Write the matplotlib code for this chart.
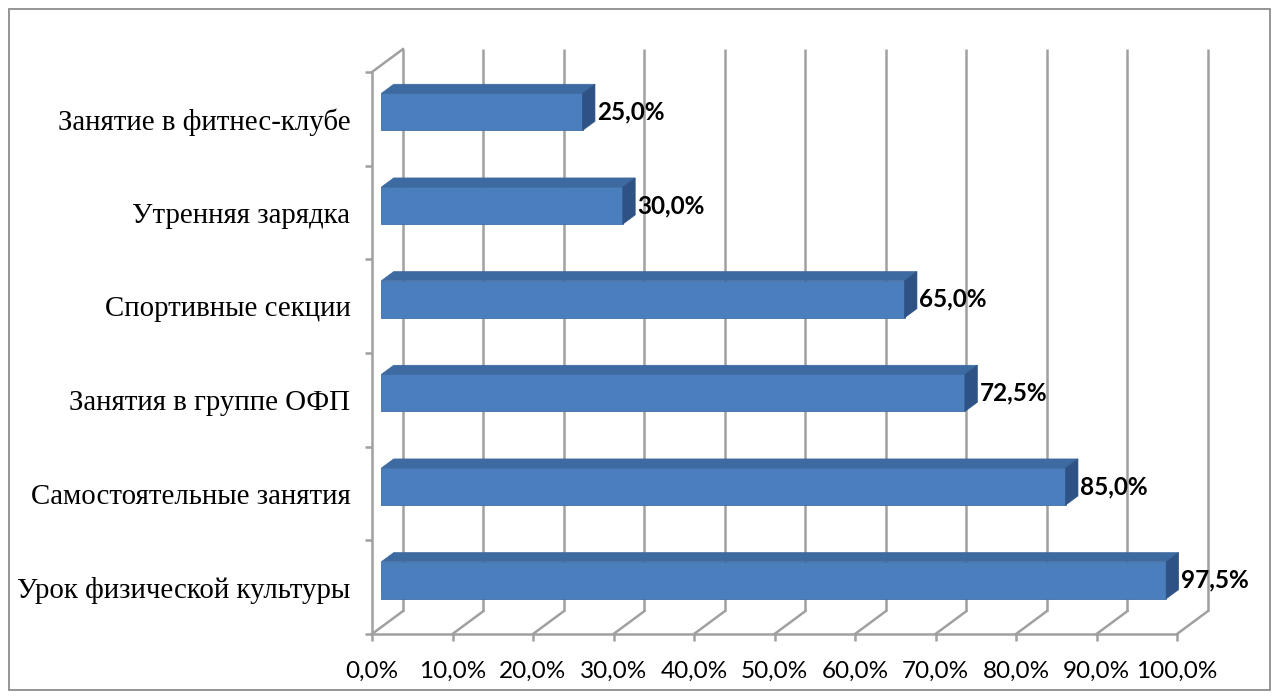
"""
Horizontal 3D-style bar chart: forms of physical activity (share of respondents)
"""
import matplotlib
matplotlib.use('Agg')
import matplotlib.pyplot as plt
from matplotlib.patches import Polygon, Rectangle

categories = ['Урок физической культуры', 'Самостоятельные занятия',
              'Занятия в группе ОФП', 'Спортивные секции',
              'Утренняя зарядка', 'Занятие в фитнес-клубе']
values = [97.5, 85.0, 72.5, 65.0, 30.0, 25.0]
xticks = list(range(0, 101, 10))
xtick_labels = [f"{v:.1f}%".replace('.', ',') for v in xticks]

# depth offsets (data units) for the fake 3D look
DX = 3.85
DY = 0.245
BAR_Z0 = 0.3      # depth where the bar front face sits
BAR_D = 0.4       # bar depth
BAR_H = 0.395

FRONT = '#4A7EBC'
TOP = '#3D6AA0'
SIDE = '#2E5284'
GRID = '#A0A0A0'

fig = plt.figure(figsize=(12.79, 6.99), dpi=100)
ax = fig.add_axes([372 / 1279, 65 / 699, 805 / 1279, 562 / 699])
ax.set_xlim(0, 100)
ax.set_ylim(-0.5, len(categories) - 0.5)
ax.patch.set_alpha(0)

top_y = len(categories) - 0.5
bot_y = -0.5

# back gridlines + floor diagonals
for v in xticks:
    ax.plot([v + DX, v + DX], [bot_y + DY, top_y + DY], color=GRID, lw=1.8,
            clip_on=False, zorder=1, solid_capstyle='butt')
    ax.plot([v, v + DX], [bot_y, bot_y + DY], color=GRID, lw=1.8,
            clip_on=False, zorder=1)
# top of the side wall
ax.plot([0, DX], [top_y, top_y + DY], color=GRID, lw=1.8, clip_on=False, zorder=1)

# spines as front wall/floor edges
for s in ['top', 'right']:
    ax.spines[s].set_visible(False)
for s in ['left', 'bottom']:
    ax.spines[s].set_color(GRID)
    ax.spines[s].set_linewidth(1.8)

ax.set_xticks(xticks)
ax.set_xticklabels(xtick_labels, fontfamily='Lato', fontsize=17.5)
ax.tick_params(axis='x', length=5, width=1.8, color=GRID, pad=14)

ax.set_yticks([i - 0.5 for i in range(len(categories) + 1)])
ax.set_yticklabels([])
ax.set_yticks(range(len(categories)), minor=True)
ax.set_yticklabels(categories, minor=True, fontfamily='Liberation Serif', fontsize=20.8)
ax.tick_params(axis='y', which='major', length=5, width=1.8, color=GRID)
ax.tick_params(axis='y', which='minor', length=0, pad=15.5)

# bars: front face through barh, top and side faces as polygons
ys = [i + BAR_Z0 * DY for i in range(len(categories))]
x0 = BAR_Z0 * DX
ax.barh(ys, values, left=x0, height=BAR_H, color=FRONT, edgecolor='#3F6FA8',
        linewidth=0.6, zorder=3, clip_on=False)
for y, v in zip(ys, values):
    yt = y + BAR_H / 2
    yb = y - BAR_H / 2
    xr = x0 + v
    top = Polygon([(x0, yt), (xr, yt), (xr + BAR_D * DX, yt + BAR_D * DY),
                   (x0 + BAR_D * DX, yt + BAR_D * DY)],
                  closed=True, facecolor=TOP, edgecolor=TOP, lw=0.5,
                  zorder=3, clip_on=False)
    side = Polygon([(xr, yb), (xr, yt), (xr + BAR_D * DX, yt + BAR_D * DY),
                    (xr + BAR_D * DX, yb + BAR_D * DY)],
                   closed=True, facecolor=SIDE, edgecolor=SIDE, lw=0.5,
                   zorder=3, clip_on=False)
    ax.add_patch(top)
    ax.add_patch(side)
    ax.text(xr + BAR_D * DX + 0.3, y,
            f"{v:.1f}%".replace('.', ','), fontfamily='Lato', fontsize=17.5,
            fontweight='bold', ha='left', va='center', zorder=4)

# chart border
fig.patches.append(Rectangle((9 / 1279, 9 / 699), 1261 / 1279, 681 / 699,
                             transform=fig.transFigure, fill=False,
                             edgecolor='#8C8C8C', lw=1.3))

fig.savefig('out.png', dpi=100)
